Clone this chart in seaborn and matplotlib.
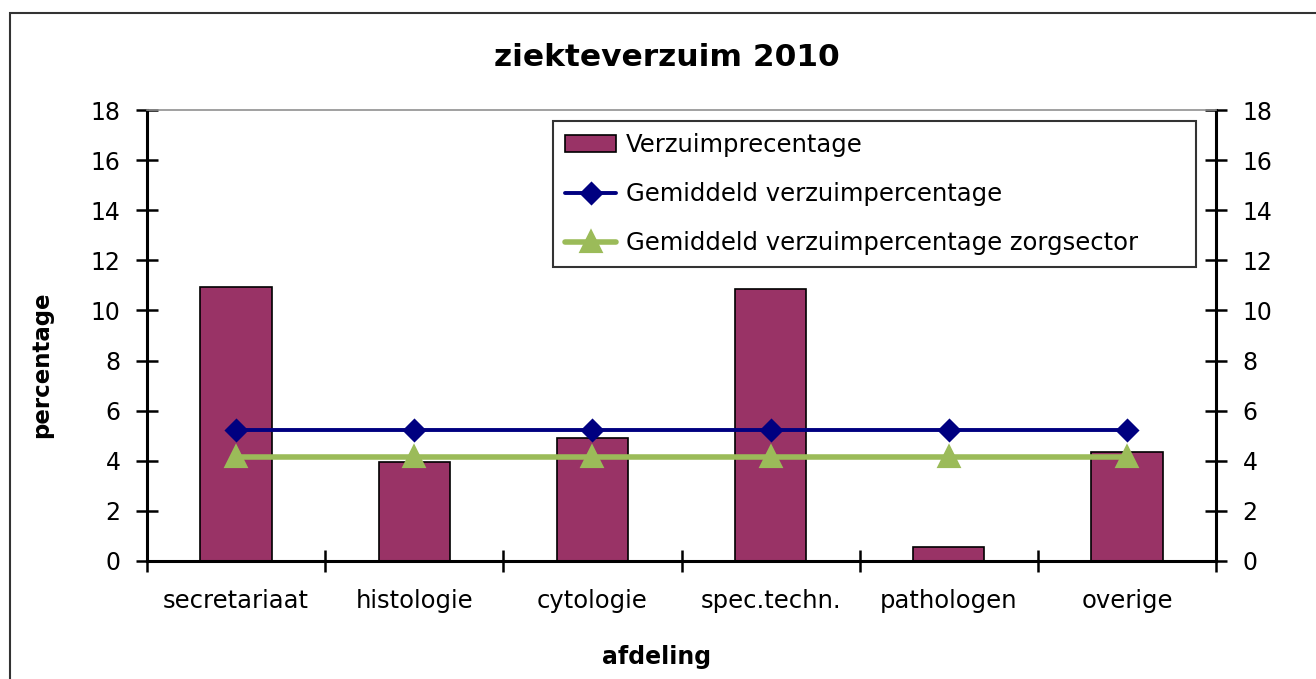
import matplotlib
matplotlib.use("Agg")
import matplotlib.pyplot as plt
from matplotlib.patches import Rectangle
from matplotlib.ticker import FixedLocator
import seaborn as sns
import pandas as pd

categories = ["secretariaat", "histologie", "cytologie", "spec.techn.", "pathologen", "overige"]
verzuim = [10.95, 3.95, 4.9, 10.85, 0.57, 4.35]
gemiddeld = [5.22, 5.22, 5.22, 5.22, 5.22, 5.22]
zorgsector = [4.15, 4.15, 4.15, 4.15, 4.15, 4.15]
yticks = [0, 2, 4, 6, 8, 10, 12, 14, 16, 18]

label_bar = "Verzuimprecentage"
label_gem = "Gemiddeld verzuimpercentage"
label_zorg = "Gemiddeld verzuimpercentage zorgsector"

sns.set_theme(style="white")
plt.rcParams["font.family"] = ["DejaVu Sans"]
plt.rcParams["text.color"] = "black"
plt.rcParams["axes.labelcolor"] = "black"
plt.rcParams["xtick.color"] = "black"
plt.rcParams["ytick.color"] = "black"

df = pd.DataFrame({"afdeling": categories, "verzuim": verzuim,
                   "gem": gemiddeld, "zorg": zorgsector})

fig = plt.figure(figsize=(13.16, 6.79), dpi=100)
ax = fig.add_axes([147 / 1316, 1 - 561 / 679, (1216 - 147) / 1316, (561 - 110) / 679])

sns.barplot(data=df, x="afdeling", y="verzuim", ax=ax, color="#993366",
            saturation=1, width=0.4, edgecolor="black", linewidth=1.2,
            label=label_bar, errorbar=None)
sns.pointplot(data=df, x="afdeling", y="gem", ax=ax, color="#000080",
              markers="D", linestyles="-", label=label_gem, errorbar=None,
              markersize=10.5, linewidth=2.8)
sns.pointplot(data=df, x="afdeling", y="zorg", ax=ax, color="#9BBB59",
              markers="^", linestyles="-", label=label_zorg, errorbar=None,
              markersize=13, linewidth=4)

ax.set_xlim(-0.5, len(categories) - 0.5)
ax.set_ylim(0, 18)
ax.set_yticks(yticks)
ax.set_xlabel("")
ax.set_ylabel("")

ax.xaxis.set_minor_locator(FixedLocator([i - 0.5 for i in range(len(categories) + 1)]))
ax.tick_params(axis="x", which="major", length=0, pad=20, labelsize=17.5, colors="black")
ax.tick_params(axis="x", which="minor", length=16, width=1.8, direction="inout",
               bottom=True, color="black")
ax.tick_params(axis="y", which="major", length=16, width=1.8, direction="inout",
               left=True, right=True, labelleft=True, labelright=True,
               pad=11, labelsize=17, colors="black")

for side in ["left", "right", "bottom"]:
    ax.spines[side].set_color("black")
    ax.spines[side].set_linewidth(2.2)
ax.spines["top"].set_color("#909090")
ax.spines["top"].set_linewidth(1.2)

handles, labels = ax.get_legend_handles_labels()
order = [labels.index(label_bar), labels.index(label_gem), labels.index(label_zorg)]
leg = ax.legend([handles[i] for i in order], [labels[i] for i in order],
                loc="upper left", bbox_to_anchor=(0.380, 0.975, 0.601, 0.0),
                mode="expand", frameon=True, fancybox=False, fontsize=17.5,
                handlelength=2.1, handletextpad=0.4, labelspacing=1.02,
                borderpad=0.5, borderaxespad=0)
leg.get_frame().set_edgecolor("black")
leg.get_frame().set_linewidth(1.5)
for t in leg.get_texts():
    t.set_color("black")

fig.text(0.507, 1 - 58 / 679, "ziekteverzuim 2010", ha="center", va="center",
         fontsize=22.5, fontweight="bold", color="black")
fig.text(42 / 1316, 1 - 365 / 679, "percentage", ha="center", va="center",
         rotation=90, fontsize=16.5, fontweight="bold", color="black")
fig.text(657 / 1316, 1 - 657 / 679, "afdeling", ha="center", va="center",
         fontsize=17, fontweight="bold", color="black")

fig.patches.append(Rectangle((10 / 1316, -0.1), 1.2, 1.1 - 13 / 679,
                             transform=fig.transFigure, fill=False,
                             edgecolor="#333333", linewidth=1.5, figure=fig))

fig.savefig("out.png", dpi=100)
